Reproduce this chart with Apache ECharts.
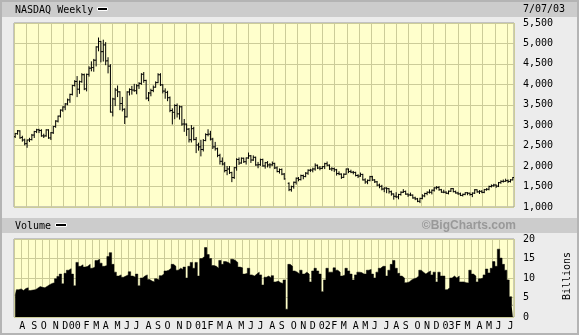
<!DOCTYPE html>
<html><head><meta charset="utf-8">
<script src="https://cdn.jsdelivr.net/npm/echarts@6/dist/echarts.min.js"></script>
<style>html,body{margin:0;padding:0;background:#ececec}#c{width:579px;height:335px}</style>
</head><body><div id="c"></div>
<script>
// ---- data ----
const firstWeekMonday = '1999-07-05';
const monthLetters = ['J','F','M','A','M','J','J','A','S','O','N','D'];
const priceTicks = [1000, 1500, 2000, 2500, 3000, 3500, 4000, 4500, 5000, 5500];
const volumeTicks = [0, 5, 10, 15, 20];
// weekly [open, high, low, close]
const ohlc = [
[2720,2800,2700,2793],[2795,2870,2780,2864],[2860,2865,2680,2692],[2700,2730,2610,2638],
[2640,2660,2520,2547],[2550,2640,2460,2637],[2640,2680,2600,2648],[2650,2775,2640,2758],
[2760,2850,2700,2844],[2845,2900,2820,2888],[2890,2900,2820,2870],[2870,2890,2730,2740],
[2740,2780,2700,2736],[2740,2890,2730,2886],[2885,2890,2680,2689],[2690,2820,2650,2816],
[2815,2970,2800,2967],[2970,3110,2950,3102],[3100,3225,3080,3221],[3225,3375,3200,3369],
[3370,3450,3340,3447],[3445,3530,3380,3520],[3520,3640,3500,3620],[3620,3760,3560,3753],
[3755,3975,3740,3970],[3970,4090,3960,4069],
[4070,4190,3700,3882],[3880,4080,3780,4064],[4065,4260,4050,4235],[4235,4250,3870,3887],
[3890,4250,3840,4244],[4245,4430,4200,4395],[4395,4550,4330,4411],[4410,4610,4320,4590],
[4590,4920,4450,4914],[4915,5133,4820,5048],[5048,5050,4550,4798],[4800,5080,4570,4964],
[4965,5020,4480,4573],[4575,4650,4280,4446],[4445,4480,3320,3321],[3320,3660,3227,3643],
[3640,3900,3480,3860],[3860,3960,3700,3817],[3815,3820,3380,3529],[3530,3680,3350,3390],
[3390,3400,3042,3205],[3205,3820,3200,3813],[3813,3890,3740,3874],[3875,3950,3760,3860],
[3860,4000,3830,3845],[3845,3990,3770,3966],[3966,4040,3900,4023],[4023,4260,4000,4246],
[4246,4289,4050,4095],[4095,4100,3640,3663],[3663,3800,3600,3787],[3787,3880,3720,3849],
[3850,3960,3820,3930],[3930,4060,3930,4042],[4042,4260,4040,4234],[4234,4260,3970,3987],
[3987,3990,3790,3835],[3835,3890,3660,3803],[3803,3830,3600,3673],[3673,3690,3330,3361],
[3360,3400,3030,3316],[3316,3500,3160,3483],[3483,3520,3200,3278],[3278,3470,3150,3451],
[3450,3460,3000,3028],[3030,3140,2850,3027],[3027,3030,2750,2904],[2904,2920,2590,2645],
[2645,2990,2590,2917],[2917,2950,2640,2653],[2653,2700,2330,2517],[2517,2560,2390,2471],
[2471,2630,2250,2407],[2407,2650,2370,2626],[2626,2790,2620,2771],[2771,2890,2740,2782],
[2782,2850,2640,2660],[2660,2680,2430,2470],[2470,2580,2390,2425],[2425,2440,2230,2262],
[2262,2290,2050,2117],[2117,2200,2030,2052],[2052,2090,1860,1891],[1891,1990,1790,1929],
[1929,1990,1820,1840],[1840,1850,1620,1720],[1720,1965,1700,1961],[1961,2180,1900,2163],
[2163,2200,2040,2075],[2075,2200,2070,2192],[2192,2195,2090,2107],[2107,2200,2050,2199],
[2199,2320,2190,2251],[2251,2260,2090,2149],[2149,2250,2140,2215],[2215,2220,2020,2028],
[2028,2090,1960,2035],[2035,2170,2020,2160],[2160,2170,2000,2004],[2004,2090,1950,2084],
[2084,2110,1980,2029],[2029,2060,1960,2030],[2030,2100,2020,2066],[2066,2070,1940,1956],
[1956,1980,1860,1867],[1867,1930,1830,1916],[1916,1930,1790,1805],[1805,1820,1680,1687],
null,[1580,1590,1400,1423],[1423,1510,1387,1499],[1499,1610,1460,1605],
[1605,1710,1560,1703],[1703,1720,1640,1671],[1671,1780,1660,1768],[1768,1780,1690,1745],
[1745,1840,1740,1828],[1828,1910,1800,1899],[1899,1920,1870,1903],[1903,1950,1860,1930],
[1930,2055,1900,2021],[2021,2025,1940,1953],[1953,1990,1910,1945],[1945,1990,1940,1987],
[1987,2070,1940,2059],[2059,2100,2010,2022],[2022,2030,1920,1930],[1930,1960,1890,1937],
[1937,1950,1870,1911],[1911,1920,1780,1818],[1818,1860,1790,1805],[1805,1810,1700,1724],
[1724,1810,1720,1802],[1802,1930,1800,1929],[1929,1930,1840,1868],[1868,1900,1840,1851],
[1851,1870,1810,1845],[1845,1850,1760,1770],[1770,1790,1720,1756],[1756,1830,1750,1796],
[1796,1800,1660,1663],[1663,1690,1580,1613],[1613,1660,1570,1652],[1652,1750,1640,1741],
[1741,1750,1650,1661],[1661,1670,1600,1615],[1615,1625,1520,1535],[1535,1560,1470,1505],
[1505,1530,1420,1440],[1440,1470,1375,1463],[1463,1470,1350,1448],[1448,1450,1340,1373],
[1373,1390,1290,1319],[1319,1320,1192,1262],[1262,1350,1230,1247],[1247,1310,1200,1306],
[1306,1370,1290,1361],[1361,1425,1355,1380],[1380,1390,1310,1315],[1315,1320,1260,1295],
[1295,1340,1280,1291],[1291,1295,1215,1222],[1222,1240,1180,1199],[1199,1210,1130,1139],
[1139,1215,1108,1210],[1210,1300,1200,1272],[1272,1335,1250,1331],[1331,1370,1300,1361],
[1361,1420,1340,1360],[1360,1415,1320,1411],[1411,1470,1390,1468],[1468,1500,1440,1479],
[1479,1500,1410,1422],[1422,1430,1360,1362],[1362,1410,1350,1363],[1363,1370,1330,1335],
[1335,1390,1320,1387],[1387,1450,1380,1448],[1448,1450,1370,1376],[1376,1390,1340,1343],
[1343,1360,1310,1321],[1321,1340,1280,1283],[1283,1315,1270,1310],[1310,1350,1300,1349],
[1349,1350,1300,1337],[1337,1340,1290,1305],[1305,1345,1253,1340],[1340,1425,1330,1421],
[1421,1420,1360,1370],[1370,1400,1330,1383],[1383,1400,1350,1358],[1358,1430,1350,1425],
[1425,1450,1410,1434],[1434,1510,1420,1502],[1502,1540,1490,1520],[1520,1555,1510,1538],
[1538,1540,1480,1510],[1510,1600,1500,1596],[1596,1640,1580,1627],[1627,1660,1610,1626],
[1626,1680,1630,1644],[1644,1660,1600,1625],[1625,1670,1610,1663],[1663,1722,1663,1721]
];
// weekly volume, billions of shares
const volume = [
5.5,7.0,7.2,6.8,7.3,7.5,6.8,6.9,7.0,7.4,7.8,7.6,7.5,7.9,8.3,8.6,8.8,9.8,10.4,11.0,
8.5,11.2,12.0,12.4,11.0,8.0,14.0,13.0,13.4,12.8,13.0,13.5,12.5,12.8,14.5,14.8,13.8,13.0,13.2,15.5,
16.5,13.5,11.5,10.5,10.8,10.2,10.5,10.8,11.6,10.5,10.2,11.0,8.0,10.0,10.5,10.8,9.6,9.2,9.0,9.8,
9.5,10.6,11.0,11.8,12.0,12.5,13.5,13.0,12.0,12.5,12.2,12.8,10.0,13.0,14.0,12.5,14.0,10.5,15.0,15.5,
17.8,16.0,15.0,13.2,13.0,12.5,14.5,13.5,14.2,14.0,13.6,14.8,14.5,14.0,12.8,12.6,11.0,11.2,12.5,10.8,
10.5,11.0,11.5,10.8,8.2,10.2,10.5,10.0,10.6,9.0,9.2,8.8,8.6,9.5,2.0,13.5,13.0,11.8,11.5,11.0,
12.0,11.0,11.5,11.0,9.0,11.8,12.5,11.8,11.0,6.5,9.5,12.5,11.5,11.5,12.6,12.0,11.5,10.5,10.8,12.5,
11.8,11.0,9.5,10.8,11.5,11.4,11.0,11.0,12.0,12.2,11.0,10.0,11.5,12.5,13.0,13.0,10.5,12.0,13.5,14.5,
12.5,11.2,10.5,10.0,8.8,9.0,9.5,9.8,10.0,10.5,12.0,11.5,11.0,11.5,11.8,10.8,11.5,9.0,11.5,10.5,
10.5,7.0,7.5,10.0,10.5,10.0,10.5,9.0,9.0,8.8,8.7,12.0,11.0,10.5,9.0,9.8,10.0,10.8,12.3,11.3,
12.5,14.2,13.0,17.4,15.1,13.5,12.0,9.5,5.2,3.0
];

// ---- build ----
const DAY = 86400000;
const t0 = Date.parse(firstWeekMonday + 'T00:00:00Z');
const weeks = ohlc.map((_, i) => new Date(t0 + i * 7 * DAY).toISOString().slice(0, 10));
function monthLabelFor(dateStr) {
  const sun = new Date(Date.parse(dateStr + 'T00:00:00Z') + 6 * DAY);
  if (sun.getUTCDate() > 7) return null;
  const m = sun.getUTCMonth();
  return m === 0 ? String(sun.getUTCFullYear()).slice(2) : monthLetters[m];
}
const ohlcData = [];
ohlc.forEach((r, i) => { if (r) ohlcData.push([i, r[0], r[1], r[2], r[3]]); });

const FONT = 'DejaVu Sans Mono';
const GRIDC = '#cccc99';
const chart = echarts.init(document.getElementById('c'), null, {renderer: 'canvas'});

function renderOHLC(params, api) {
  const x = api.value(0);
  const o = api.coord([x, api.value(1)]);
  const h = api.coord([x, api.value(2)]);
  const l = api.coord([x, api.value(3)]);
  const c = api.coord([x, api.value(4)]);
  const t = api.size([1, 0])[0] * 0.55;
  const style = {stroke: '#000', lineWidth: 1};
  return {type: 'group', children: [
    {type: 'line', shape: {x1: h[0], y1: h[1] - 0.5, x2: l[0], y2: l[1] + 0.5}, style},
    {type: 'line', shape: {x1: o[0] - t, y1: o[1], x2: o[0], y2: o[1]}, style},
    {type: 'line', shape: {x1: c[0], y1: c[1], x2: c[0] + t, y2: c[1]}, style}
  ]};
}

const axisLabelStyle = {fontFamily: FONT, fontSize: 10, color: '#000'};

chart.setOption({
  animation: false,
  backgroundColor: '#ececec',
  grid: [
    {left: 14, top: 23, width: 500, height: 184, show: true, backgroundColor: '#ffffcc', borderColor: '#9a9a9a', borderWidth: 1},
    {left: 14, top: 239, width: 500, height: 78, show: true, backgroundColor: '#ffffcc', borderColor: '#9a9a9a', borderWidth: 1}
  ],
  xAxis: [
    {type: 'category', gridIndex: 0, data: weeks, boundaryGap: true,
     axisLine: {show: false}, axisTick: {show: false}, axisLabel: {show: false}, splitLine: {show: false}},
    {type: 'value', gridIndex: 0, min: -203, max: 49797, interval: 1233,
     axisLine: {show: false}, axisTick: {show: false}, axisLabel: {show: false},
     splitLine: {show: true, lineStyle: {color: GRIDC, width: 1}}},
    {type: 'category', gridIndex: 1, data: weeks, boundaryGap: true,
     axisLine: {show: false}, axisTick: {show: false},
     splitLine: {show: true, interval: 2, lineStyle: {color: GRIDC, width: 1}},
     axisLabel: Object.assign({margin: 4, interval: (i, v) => monthLabelFor(v) !== null,
       formatter: v => monthLabelFor(v) || ''}, axisLabelStyle)}
  ],
  yAxis: [
    {type: 'value', gridIndex: 0, position: 'right', min: priceTicks[0], max: priceTicks[priceTicks.length - 1],
     interval: priceTicks[1] - priceTicks[0],
     axisLine: {show: false}, axisTick: {show: false},
     axisLabel: Object.assign({margin: 9, align: 'left', formatter: v => v.toLocaleString('en-US')}, axisLabelStyle),
     splitLine: {show: true, lineStyle: {color: GRIDC, width: 1}}},
    {type: 'value', gridIndex: 1, position: 'right', min: volumeTicks[0], max: volumeTicks[volumeTicks.length - 1],
     interval: volumeTicks[1] - volumeTicks[0],
     axisLine: {show: false}, axisTick: {show: false},
     axisLabel: Object.assign({margin: 9, align: 'left'}, axisLabelStyle),
     splitLine: {show: true, lineStyle: {color: GRIDC, width: 1}}}
  ],
  series: [
    {type: 'custom', xAxisIndex: 0, yAxisIndex: 0, data: ohlcData,
     encode: {x: 0, y: [1, 2, 3, 4]}, renderItem: renderOHLC, clip: true, z: 5},
    {type: 'line', xAxisIndex: 2, yAxisIndex: 1, data: volume, step: 'middle', symbol: 'none',
     lineStyle: {color: '#000', width: 0.5}, areaStyle: {color: '#000', opacity: 1}, z: 5}
  ],
  graphic: [
    {type: 'rect', shape: {x: 1, y: 1, width: 577, height: 333}, style: {fill: 'none', stroke: '#b4b4b4', lineWidth: 2}, z: 100},
    {type: 'rect', shape: {x: 2, y: 2, width: 575, height: 15}, style: {fill: '#cccccc'}, z: 1},
    {type: 'rect', shape: {x: 2, y: 218, width: 575, height: 15}, style: {fill: '#cccccc'}, z: 1},
    {type: 'text', x: 15, y: 10, style: {text: 'NASDAQ Weekly', font: '10px "' + FONT + '"', fill: '#000', verticalAlign: 'middle'}, z: 2},
    {type: 'rect', shape: {x: 97.5, y: 7.5, width: 10, height: 3}, style: {fill: '#000', stroke: '#fff', lineWidth: 1}, z: 2},
    {type: 'text', x: 523, y: 9, style: {text: '7/07/03', font: '10px "' + FONT + '"', fill: '#000', verticalAlign: 'middle'}, z: 2},
    {type: 'text', x: 15, y: 226, style: {text: 'Volume', font: '10px "' + FONT + '"', fill: '#000', verticalAlign: 'middle'}, z: 2},
    {type: 'rect', shape: {x: 55.5, y: 223.5, width: 11, height: 3}, style: {fill: '#000', stroke: '#fff', lineWidth: 1}, z: 2},
    {type: 'text', x: 516, y: 226, style: {text: '\u00A9BigCharts.com', font: 'bold 12px "Liberation Sans"', fill: '#999999', align: 'right', verticalAlign: 'middle'}, z: 2},
    {type: 'text', x: 567, y: 276, rotation: Math.PI / 2, style: {text: 'Billions', font: '10px "' + FONT + '"', fill: '#000', align: 'center', verticalAlign: 'middle'}, z: 2}
  ]
});
</script>
</body></html>
